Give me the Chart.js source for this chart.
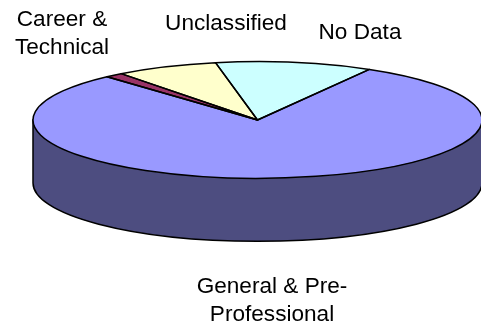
<!DOCTYPE html>
<html>
<head>
<meta charset="utf-8">
<script src="https://cdn.jsdelivr.net/npm/chart.js@4"></script>
<style>
    html, body { margin: 0; padding: 0; background: #fff; }
    canvas { display: block; }
</style>
</head>
<body>
<canvas id="chart" width="481" height="326"></canvas>
<script>
// Chart data (percent of the pie)
const categories = ['General & Pre-Professional', 'Career & Technical', 'Unclassified', 'No Data'];
const shares = [80.0, 1.3, 7.4, 11.3];
const sliceColors = ['#9999FF', '#993366', '#FFFFCC', '#CCFFFF'];

// Text labels with their line breaks, centre x and first baseline y
const labelLines = [
    ['General & Pre-', 'Professional'],
    ['Career &', 'Technical'],
    ['Unclassified'],
    ['No Data']
];
const labelX = [272, 62, 226, 360];
const labelY = [293, 26, 30, 39];

// Look of the fake 3D disc
const tilt = 0.26;
const depth = 63;
const wallColor = '#4D4D80';
const outlineWidth = 1.5;

// Squash the pie into an ellipse and draw the side wall under it
const disc3d = {
    id: 'disc3d',
    beforeDatasetsDraw(chart) {
        const ctx = chart.ctx;
        const arc = chart.getDatasetMeta(0).data[0];
        const r = arc.outerRadius;
        ctx.save();
        ctx.beginPath();
        ctx.moveTo(arc.x - r, arc.y);
        ctx.lineTo(arc.x - r, arc.y + depth);
        ctx.ellipse(arc.x, arc.y + depth, r, r * tilt, 0, Math.PI, 0, true);
        ctx.lineTo(arc.x + r, arc.y);
        ctx.closePath();
        ctx.fillStyle = wallColor;
        ctx.fill();
        ctx.strokeStyle = '#000';
        ctx.lineWidth = outlineWidth;
        ctx.stroke();
        ctx.restore();

        ctx.save();
        ctx.translate(arc.x, arc.y);
        ctx.scale(1, tilt);
        ctx.translate(-arc.x, -arc.y);
    },
    afterDatasetsDraw(chart) {
        const ctx = chart.ctx;
        ctx.restore();

        // Outlines go on afterwards so the squash does not thin them
        ctx.save();
        ctx.strokeStyle = '#000';
        ctx.lineWidth = outlineWidth;
        ctx.lineJoin = 'round';
        chart.getDatasetMeta(0).data.forEach(function (arc) {
            const r = arc.outerRadius;
            ctx.beginPath();
            ctx.moveTo(arc.x, arc.y);
            ctx.ellipse(arc.x, arc.y, r, r * tilt, 0, arc.startAngle, arc.endAngle);
            ctx.closePath();
            ctx.stroke();
        });
        ctx.restore();
    },
    afterDraw(chart) {
        const ctx = chart.ctx;
        ctx.save();
        ctx.fillStyle = '#000';
        ctx.font = '22.6px "Liberation Sans", Arial, sans-serif';
        ctx.textAlign = 'center';
        ctx.textBaseline = 'alphabetic';
        labelLines.forEach(function (lines, i) {
            lines.forEach(function (line, j) {
                ctx.fillText(line, labelX[i], labelY[i] + j * 28);
            });
        });
        ctx.restore();
    }
};

new Chart(document.getElementById('chart'), {
    type: 'pie',
    data: {
        labels: categories,
        datasets: [{
            data: shares,
            backgroundColor: sliceColors,
            borderWidth: 0,
            clip: false
        }]
    },
    options: {
        responsive: false,
        animation: false,
        rotation: 29.9,
        radius: 224.5,
        layout: { padding: { left: 34, bottom: 86 } },
        plugins: {
            legend: { display: false },
            tooltip: { enabled: false }
        }
    },
    plugins: [disc3d]
});
</script>
</body>
</html>
